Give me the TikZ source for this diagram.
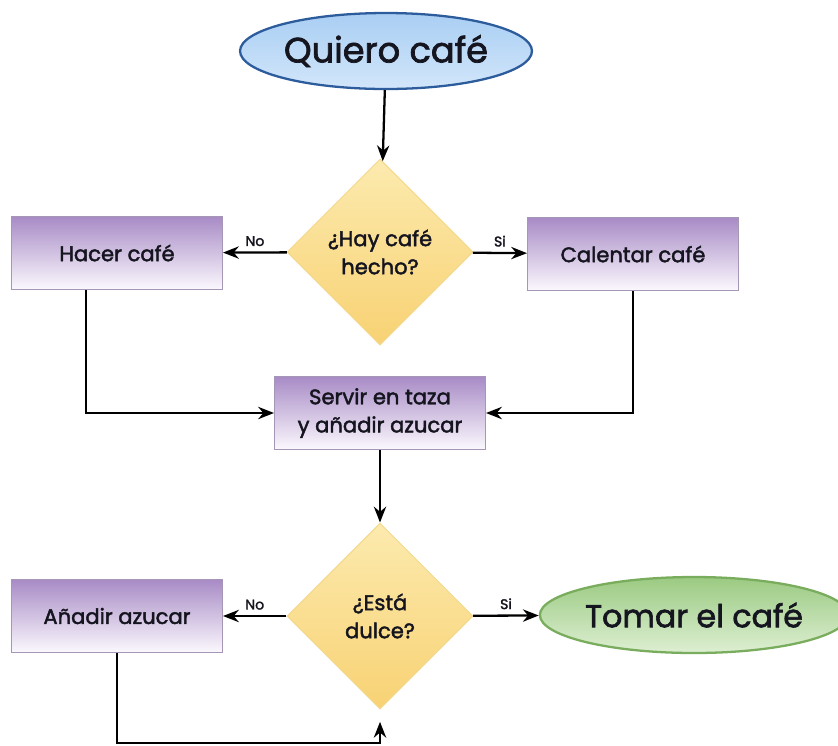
\documentclass[tikz,border=0pt]{standalone}
\usepackage{fontspec}
\setmainfont{Poppins}[FakeBold=2]
\usepackage{xcolor}
\usepackage{tikz}
\usetikzlibrary{shapes}
\usetikzlibrary{calc}
\usetikzlibrary{arrows.meta}

\definecolor{boxtop}{HTML}{A88BC6}
\definecolor{boxbot}{HTML}{FBF8FD}
\definecolor{boxline}{HTML}{A596B5}
\definecolor{asktop}{HTML}{FCEAAE}
\definecolor{askbot}{HTML}{F8D274}
\definecolor{askline}{HTML}{F3D98E}
\definecolor{starttop}{HTML}{A9CEF3}
\definecolor{startbot}{HTML}{D2E6FA}
\definecolor{startline}{HTML}{2C5C9C}
\definecolor{endtop}{HTML}{9BCA82}
\definecolor{endbot}{HTML}{DDEFD2}
\definecolor{endline}{HTML}{79AD5D}
\definecolor{ink}{HTML}{15151F}

\begin{document}
\begin{tikzpicture}[x=0.02cm, y=-0.02cm, text=ink]
\tikzstyle{stepbox} = [rectangle, draw=boxline, line width=0.6pt, top color=boxtop, bottom color=boxbot, minimum width=4.22cm, minimum height=1.46cm, inner sep=2pt, font=\fontsize{12}{16}\selectfont, align=center]
\tikzstyle{ask}     = [diamond, draw=askline, line width=0.6pt, top color=asktop, bottom color=askbot, minimum width=3.72cm, minimum height=3.72cm, inner sep=0pt, font=\fontsize{12}{16}\selectfont, align=center]
\tikzstyle{startend} = [ellipse, line width=1.3pt, inner sep=0pt, minimum height=1.52cm]
\tikzstyle{arrow}   = [-{Stealth[length=9pt, width=7pt]}, line width=1.3pt]
\tikzstyle{answer}  = [above, font=\fontsize{8}{9}\selectfont, inner sep=3pt]
\useasboundingbox (0, 0) rectangle (838, 745);
\node [startend, draw=startline, top color=starttop, bottom color=startbot, minimum width=5.84cm, font=\fontsize{20}{24}\selectfont](quiero) at (386, 51) {Quiero café};
\node [ask](hay) at (380, 252) {¿Hay café\\hecho?};
\node [stepbox](hacer) at (117, 253) {Hacer café};
\node [stepbox](calentar) at (633, 254) {Calentar café};
\node [stepbox](servir) at (380, 413) {Servir en taza\\y añadir azucar};
\node [ask](dulce) at (380, 616) {¿Está\\dulce?};
\node [stepbox](anadir) at (117, 616) {Añadir azucar};
\node [startend, draw=endline, top color=endtop, bottom color=endbot, minimum width=5.76cm, font=\fontsize{18}{22}\selectfont](tomar) at (694, 615) {Tomar el café};
\coordinate (vuelta) at (117, 743);
 %%Edges
\draw [arrow] (quiero)--(hay);
\draw [arrow] (hay)--node[answer]{No}(hacer);
\draw [arrow] (hay)--node[answer]{Si}(calentar);
\draw [arrow] ($(hacer.south) + (-31, 0)$) |- (servir);
\draw [arrow] (calentar) |- (servir);
\draw [arrow] (servir)--(dulce);
\draw [arrow] (dulce)--node[answer]{No}(anadir);
\draw [arrow] (dulce)--node[answer]{Si}(tomar);
\draw [arrow, shorten >=7pt] (anadir) |- (vuelta) -| (dulce.south);
\end{tikzpicture}
\end{document}
